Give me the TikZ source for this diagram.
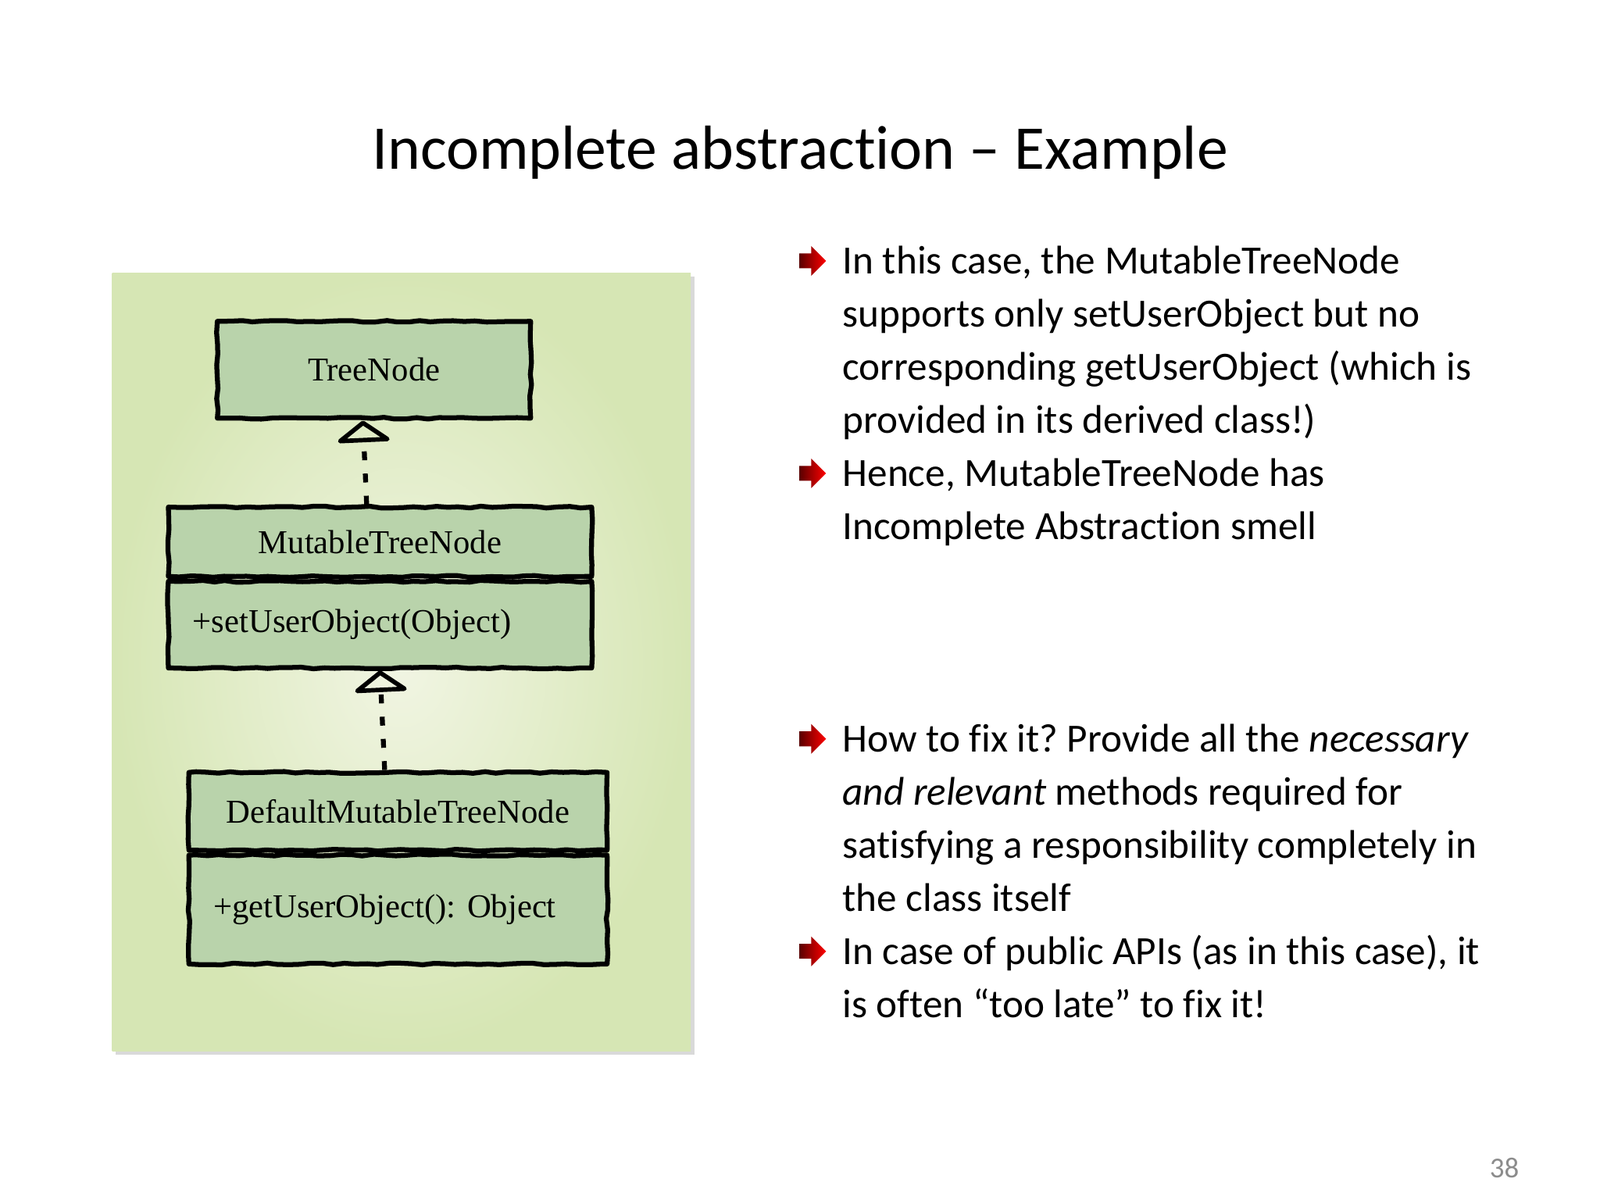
\documentclass[tikz,border=0pt]{standalone}
\usepackage{fontspec}
\setmainfont{Carlito}[RawFeature={-liga;-calt;-dlig}]
\newfontfamily\sketchfont{Liberation Serif}
\usepackage{xcolor}
\usepackage{tikz}
\usetikzlibrary{arrows.meta,positioning,shapes.arrows,decorations.pathmorphing}
\frenchspacing
\definecolor{sketchbg}{HTML}{D6E6B4}
\definecolor{sketchlt}{HTML}{F1F5E3}
\definecolor{clsfill}{HTML}{B9D3AB}
\definecolor{bulred}{HTML}{FF0000}
\definecolor{buldark}{HTML}{5A0000}
\definecolor{pagegray}{HTML}{8C8C8C}
\tikzset{
  cls/.style={draw=black, line width=2.2pt, fill=clsfill, inner sep=0pt, line join=round,
    font=\sketchfont\fontsize{15}{18}\selectfont,
    decorate, decoration={random steps, segment length=5pt, amplitude=.4pt}},
  clsop/.style={cls, inner xsep=11pt, align=left},
  inh/.style={-{Triangle[open, width=27pt, length=10pt, line width=2pt, round]}, line width=2.2pt, dash pattern=on 4pt off 6pt},
  ttl/.style={anchor=base, inner sep=0pt, font=\fontsize{28}{34}\selectfont},
  txt/.style={anchor=base west, inner sep=0pt, align=left, font=\fontsize{18}{23.9}\selectfont},
  bul/.style={single arrow, inner sep=0pt, text height=6.3pt, text depth=0pt, minimum height=12pt,
    single arrow head extend=3.35pt, single arrow head indent=0pt, left color=buldark, right color=bulred},
  pgnum/.style={anchor=base, inner sep=0pt, text=pagegray, font=\fontsize{13}{15}\selectfont},
}
\begin{document}
\begin{tikzpicture}[x=1pt, y=1pt]
  \useasboundingbox (0,0) rectangle (720,540);
  \node[ttl] (title) at (360,464) {Incomplete abstraction – Example};
  % sketch
  \fill[gray!30] (52,65.3) rectangle (312.5,415.5);
  \shade[inner color=sketchlt, outer color=sketchbg] (50.5,67) rectangle (310.8,417);
  \node[cls, minimum width=141pt, minimum height=43.6pt] (tn) at (168.3,373.6) {TreeNode};
  \node[cls, minimum width=190.5pt, minimum height=31.2pt] (mtn) at (171,296.2) {MutableTreeNode};
  \node[clsop, below=0pt of mtn, text width=168.5pt, minimum height=39pt] (mtnop) {+setUserObject(Object)};
  \node[cls, minimum width=188.2pt, minimum height=35pt] (dmtn) at (179.1,174.9) {DefaultMutableTreeNode};
  \node[clsop, below=0pt of dmtn, text width=166.2pt, minimum height=49pt] (dmtnop) {+getUserObject(): Object};
  \draw[inh] ([xshift=-6pt]mtn.north) -- ([xshift=-5pt]tn.south);
  \draw[inh] ([xshift=-6pt]dmtn.north) -- (mtnop.south);
  % bullets (nodes sit on their last baseline)
  \node[txt] (p1) at (379,344.9) {In this case, the MutableTreeNode\\supports only setUserObject but no\\corresponding getUserObject (which is\\provided in its derived class!)};
  \node[txt] (p2) at (379,297.1) {Hence, MutableTreeNode has\\Incomplete Abstraction smell};
  \node[txt] (p3) at (379,129.8) {How to fix it? Provide all the \textit{necessary}\\\textit{and relevant} methods required for\\satisfying a responsibility completely in\\the class itself};
  \node[txt] (p4) at (379,82) {In case of public APIs (as in this case), it\\is often “too late” to fix it!};
  \node[bul, left=7pt of p1.base west, yshift=77.7pt] (b1) {};
  \node[bul, left=7pt of p2.base west, yshift=29.9pt] (b2) {};
  \node[bul, left=7pt of p3.base west, yshift=77.7pt] (b3) {};
  \node[bul, left=7pt of p4.base west, yshift=29.9pt] (b4) {};
  \node[pgnum] (pg) at (677,10.1) {38};
\end{tikzpicture}
\end{document}
